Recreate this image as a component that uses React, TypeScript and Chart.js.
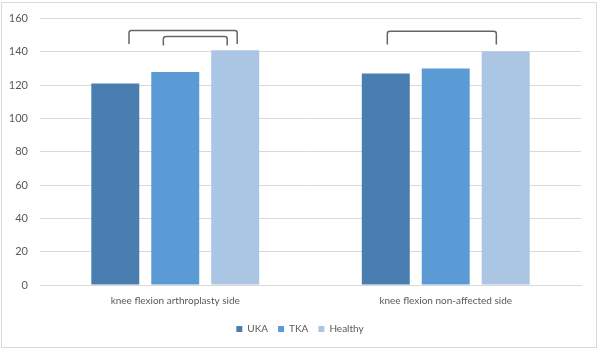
import React, { useEffect, useRef } from "react";
import { Chart, registerables } from "chart.js";

Chart.register(...registerables);

const categories = ["knee flexion arthroplasty side", "knee flexion non-affected side"];
const seriesNames = ["UKA", "TKA", "Healthy"];
const ukaValues = [121, 127];
const tkaValues = [128, 130];
const healthyValues = [141, 140.3];
const yTicks = [0, 20, 40, 60, 80, 100, 120, 140, 160];

// significance brackets: x in category units, y in value units
const bracketFrom = [-0.171, -0.044, 0.784];
const bracketTo = [0.229, 0.192, 1.187];
const bracketTop = [152.8, 149.2, 152.4];
const bracketTip = [144.8, 143.8, 144.4];

const colors = ["#4a7eb1", "#5b9bd5", "#abc6e5"];
const FONT = "Lato, 'Liberation Sans', sans-serif";

const framePlugin = {
  id: "frame",
  beforeDraw(chart: any) {
    const ctx = chart.ctx;
    ctx.save();
    ctx.fillStyle = "#ffffff";
    ctx.fillRect(0, 0, chart.width, chart.height);
    ctx.strokeStyle = "#d9d9d9";
    ctx.lineWidth = 1;
    ctx.strokeRect(1.5, 2.5, 595, 345);
    ctx.restore();
  },
};

const bracketPlugin = {
  id: "brackets",
  afterDatasetsDraw(chart: any) {
    const ctx = chart.ctx;
    const xs = chart.scales.x;
    const ys = chart.scales.y;
    ctx.save();
    ctx.strokeStyle = "#666666";
    ctx.lineWidth = 1.5;
    ctx.lineJoin = "round";
    for (let i = 0; i < bracketFrom.length; i++) {
      const x1 = xs.getPixelForValue(bracketFrom[i]);
      const x2 = xs.getPixelForValue(bracketTo[i]);
      const yt = ys.getPixelForValue(bracketTop[i]);
      const yb = ys.getPixelForValue(bracketTip[i]);
      const r = 2.5;
      ctx.beginPath();
      ctx.moveTo(x1, yb);
      ctx.lineTo(x1, yt + r);
      ctx.quadraticCurveTo(x1, yt, x1 + r, yt);
      ctx.lineTo(x2 - r, yt);
      ctx.quadraticCurveTo(x2, yt, x2, yt + r);
      ctx.lineTo(x2, yb);
      ctx.stroke();
    }
    ctx.restore();
  },
};

export default function App() {
  const ref = useRef<HTMLCanvasElement | null>(null);
  useEffect(() => {
    document.body.style.margin = "0";
    const canvas = ref.current;
    if (!canvas) return;
    const chart = new Chart(canvas, {
      type: "bar",
      data: {
        labels: categories,
        datasets: [
          { label: seriesNames[0], data: ukaValues, backgroundColor: colors[0] },
          { label: seriesNames[1], data: tkaValues, backgroundColor: colors[1] },
          { label: seriesNames[2], data: healthyValues, backgroundColor: colors[2] },
        ],
      },
      options: {
        responsive: false,
        animation: false,
        devicePixelRatio: 1,
        layout: { padding: { left: 0, right: 0, top: 12, bottom: 7 } },
        datasets: { bar: { categoryPercentage: 0.665, barPercentage: 0.8 } },
        plugins: {
          legend: {
            position: "bottom",
            labels: {
              boxWidth: 6,
              boxHeight: 6,
              padding: 10,
              color: "#595959",
              font: { family: FONT, size: 10 },
            },
          },
          tooltip: { enabled: false },
        },
        scales: {
          x: {
            afterFit(scale: any) {
              scale.height -= 3;
            },
            grid: { display: false, drawTicks: false },
            border: { display: true, color: "#d9d9d9" },
            ticks: { color: "#595959", padding: 10, font: { family: FONT, size: 10 } },
          },
          y: {
            min: 0,
            max: 160,
            afterBuildTicks(scale: any) {
              scale.ticks = yTicks.map((v) => ({ value: v }));
            },
            afterFit(scale: any) {
              scale.width = 40;
            },
            grid: { color: "#d9d9d9", drawTicks: false },
            border: { display: false },
            ticks: { color: "#595959", padding: 12, font: { family: FONT, size: 11 } },
          },
          yRight: {
            position: "right",
            min: 0,
            max: 160,
            afterFit(scale: any) {
              scale.width = 19;
            },
            grid: { display: false, drawTicks: false },
            border: { display: false },
            ticks: { display: false },
          },
        },
      },
      plugins: [framePlugin, bracketPlugin],
    });
    return () => chart.destroy();
  }, []);
  return (
    <div style={{ width: 600, height: 351 }}>
      <canvas ref={ref} width={600} height={351} style={{ width: 600, height: 351, display: "block" }} />
    </div>
  );
}
